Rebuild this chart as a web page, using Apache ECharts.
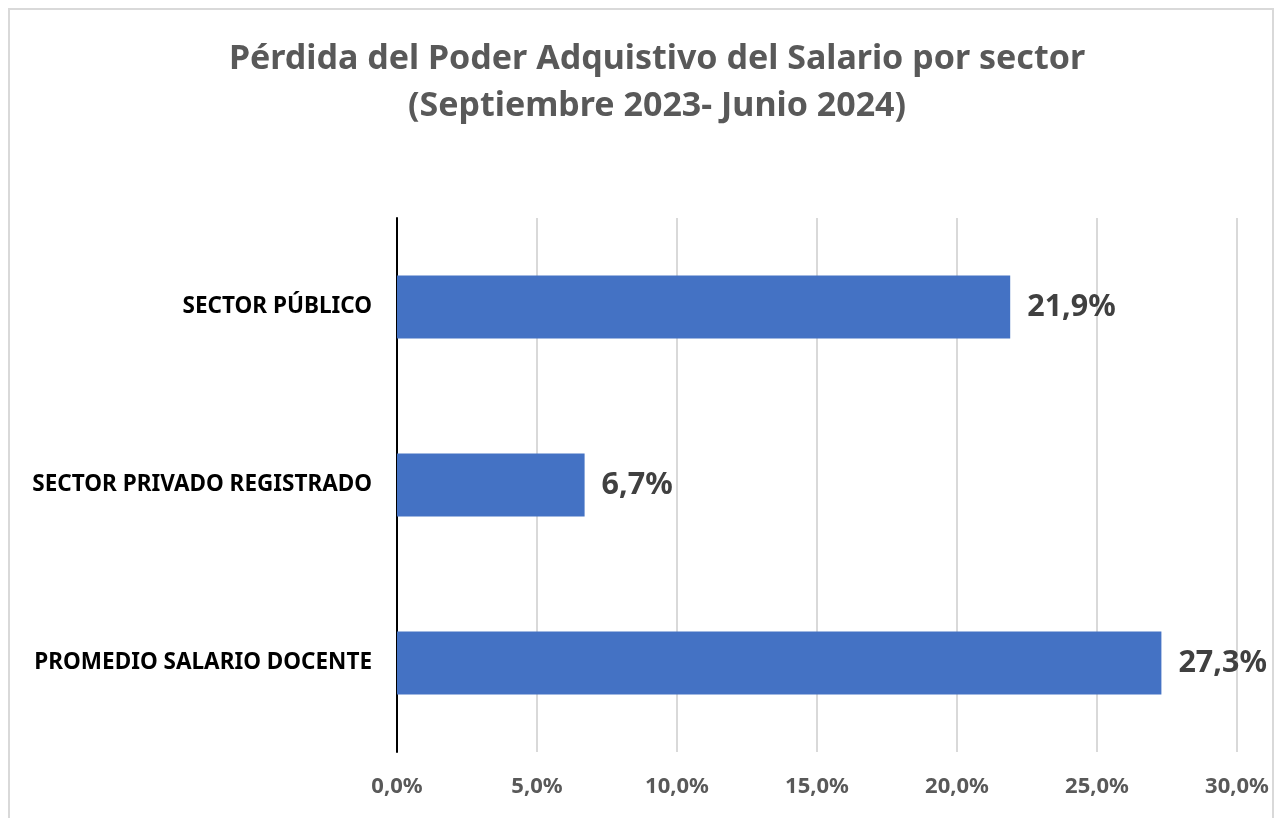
<!DOCTYPE html>
<html>
<head>
<meta charset="utf-8">
<script src="https://cdn.jsdelivr.net/npm/echarts@6/dist/echarts.min.js"></script>
<style>
  html, body { margin: 0; padding: 0; background: #fff; }
  #frame { position: absolute; left: 8px; top: 8px; width: 1266px; height: 830px; border: 2px solid #D9D9D9; box-sizing: border-box; }
  #chart { position: absolute; left: 0; top: 0; width: 1283px; height: 818px; }
</style>
</head>
<body>
<div id="frame"></div>
<div id="chart"></div>
<script>
const categories = ['SECTOR PÚBLICO', 'SECTOR PRIVADO REGISTRADO', 'PROMEDIO SALARIO DOCENTE'];
const values = [21.9, 6.7, 27.3];
const tickMin = 0;
const tickMax = 30;
const tickStep = 5;

const fmt = v => v.toFixed(1).replace('.', ',') + '%';
const font = '"Noto Sans", sans-serif';

const chart = echarts.init(document.getElementById('chart'));
chart.setOption({
    animation: false,
    title: {
        text: 'Pérdida del Poder Adquistivo del Salario por sector\n(Septiembre 2023- Junio 2024)',
        left: 652,
        top: 31,
        textAlign: 'center',
        textStyle: {
            fontFamily: font,
            fontWeight: 'bold',
            fontSize: 34,
            lineHeight: 47,
            color: '#595959'
        }
    },
    grid: {
        left: 397,
        right: 46,
        top: 218,
        bottom: 66,
        containLabel: false
    },
    xAxis: {
        type: 'value',
        min: tickMin,
        max: tickMax,
        interval: tickStep,
        axisLine: {show: false},
        axisTick: {show: false},
        splitLine: {lineStyle: {color: '#D9D9D9', width: 2}},
        axisLabel: {
            formatter: v => fmt(v),
            margin: 24,
            fontFamily: font,
            fontWeight: 'bold',
            fontSize: 22,
            color: '#595959'
        }
    },
    yAxis: {
        type: 'category',
        data: categories,
        inverse: true,
        axisLine: {lineStyle: {color: '#000', width: 2}},
        axisTick: {show: false},
        axisLabel: {
            margin: 25,
            fontFamily: font,
            fontWeight: 'bold',
            fontSize: 22.5,
            color: '#000'
        }
    },
    series: [{
        type: 'bar',
        data: values,
        barCategoryGap: '64.6%',
        itemStyle: {color: '#4472C4'},
        label: {
            show: true,
            position: 'right',
            distance: 17,
            formatter: p => fmt(p.value),
            fontFamily: font,
            fontWeight: 'bold',
            fontSize: 30.5,
            color: '#404040'
        }
    }]
});
</script>
</body>
</html>
